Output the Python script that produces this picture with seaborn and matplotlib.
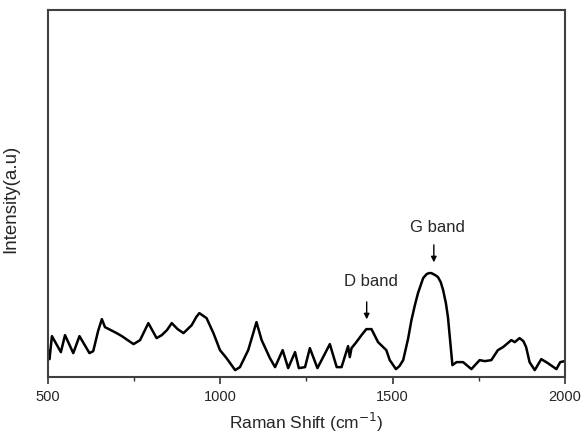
import numpy as np
import pandas as pd
import seaborn as sns
import matplotlib.pyplot as plt

# Raman spectrum (wavenumber in cm^-1, intensity in arbitrary units)
shift = [500, 504, 511, 537, 549, 573, 591, 620, 631, 645, 656, 665, 699, 714, 748, 767,
         791, 815, 830, 845, 859, 876, 893, 917, 930, 939, 960, 980, 999, 1018, 1043,
         1057, 1081, 1105, 1120, 1144, 1159, 1181, 1197, 1217, 1228, 1246, 1260, 1282,
         1318, 1338, 1352, 1371, 1376, 1381, 1395, 1410, 1424, 1439, 1458, 1482, 1492,
         1510, 1520, 1531, 1545, 1555, 1565, 1574, 1589, 1599, 1606, 1613, 1624, 1632,
         1640, 1647, 1655, 1661, 1674, 1686, 1705, 1729, 1753, 1768, 1787, 1806, 1821,
         1845, 1855, 1869, 1880, 1888, 1898, 1913, 1932, 1951, 1976, 1987, 2000]
intensity = [27, 18, 41, 25, 42, 24, 41, 24, 26, 46, 58, 50, 44, 41, 33, 37,
             54, 39, 42, 47, 54, 48, 44, 52, 60, 64, 59, 44, 27, 19, 7,
             10, 27, 55, 37, 19, 10, 27, 9, 25, 9, 10, 29, 9,
             33, 10, 10, 31, 20, 29, 35, 42, 48, 48, 35, 27, 17,
             8, 11, 17, 38, 57, 72, 84, 99, 103, 104, 104, 102, 100,
             95, 87, 74, 60, 12, 15, 15, 8, 17, 16, 17, 27, 30,
             37, 35, 39, 36, 30, 15, 7, 18, 14, 8, 15, 16]

bands = ["D band", "G band"]
band_pos = [1425, 1620]
band_tip = [55, 112]
label_x = [1438, 1631]
label_y = [96, 150]

df = pd.DataFrame({"shift": shift, "intensity": intensity})

sns.set_style("ticks")
plt.rcParams["font.family"] = ["Liberation Sans", "DejaVu Sans"]

fig = plt.figure(figsize=(5.87, 4.37), dpi=100)
ax = fig.add_axes([0.082, 0.137, 0.880, 0.840])

sns.lineplot(data=df, x="shift", y="intensity", ax=ax, color="black",
             linewidth=1.8, sort=False)

ax.set_xlim(500, 2000)
ax.set_ylim(0, 367)
ax.set_xticks([500, 1000, 1500, 2000])
ax.set_xticks([750, 1250, 1750], minor=True)
ax.set_yticks([])
ax.tick_params(axis="x", which="major", direction="out", length=5, width=1.2,
               labelsize=10.5, color="#333333", pad=4)
ax.tick_params(axis="x", which="minor", direction="out", length=3, width=1.0,
               color="#333333")
for s in ax.spines.values():
    s.set_linewidth(1.5)
    s.set_color("#404040")
    s.set_visible(True)

ax.set_xlabel("Raman Shift (cm$^{-1}$)", fontsize=12.5, labelpad=5)
ax.set_ylabel("Intensity(a.u)", fontsize=13.5, labelpad=12)
ax.yaxis.set_label_coords(-0.055, 0.485)

for name, x, tip, lx, ly in zip(bands, band_pos, band_tip, label_x, label_y):
    ax.annotate("", xy=(x, tip), xytext=(x, tip + 23),
                arrowprops=dict(arrowstyle="-|>", color="black", lw=1.0,
                                mutation_scale=8))
    ax.text(lx, ly, name, ha="center", va="center", fontsize=12)

fig.savefig("out.png", dpi=100)
